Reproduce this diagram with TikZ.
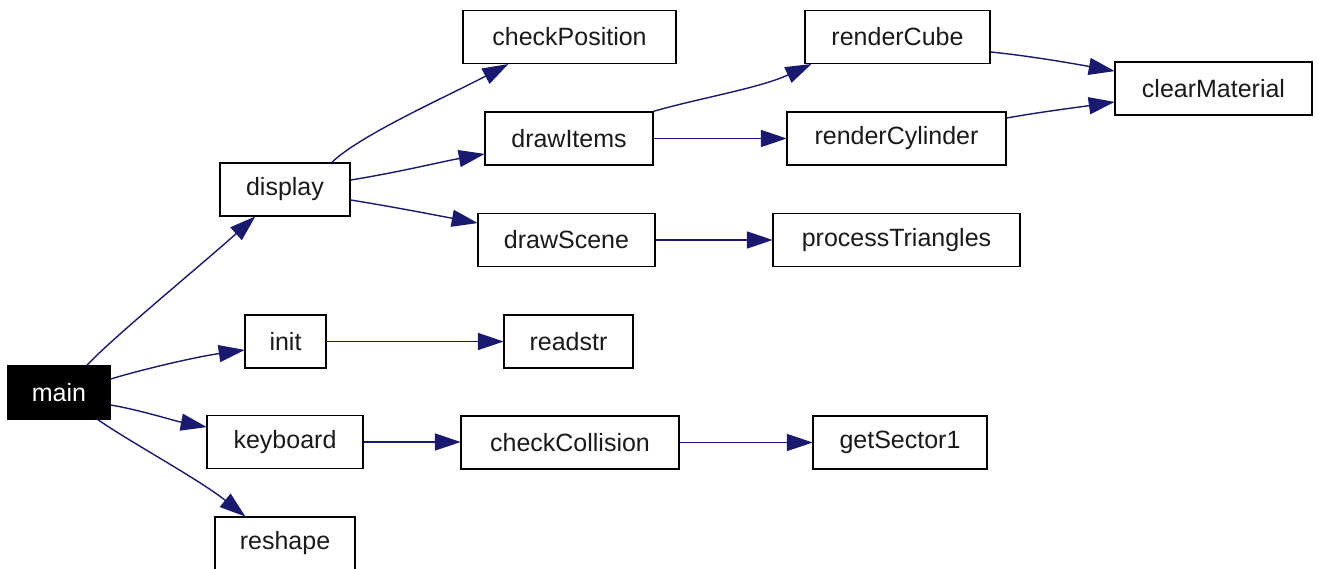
\documentclass[tikz,border=0pt]{standalone}
\usepackage{fontspec}
\setmainfont{Liberation Sans}
\usetikzlibrary{arrows.meta,calc}
\definecolor{edgeblue}{HTML}{191970}
\definecolor{labelgray}{HTML}{1A1A1A}
\tikzset{
  fn/.style={draw=black, line width=1.5pt, fill=white, inner sep=0pt,
    minimum height=53pt, text=labelgray,
    font=\fontsize{25}{30}\selectfont},
  rootfn/.style={fn, fill=black, text=white},
  call/.style={draw=edgeblue, line width=1.4pt,
    -{Triangle[length=26pt,width=17pt]}, shorten >=-0.5pt}
}
\begin{document}
\begin{tikzpicture}[x=1pt,y=-1pt]
\useasboundingbox (0,0) rectangle (1319,569);
\fill[white] (0,0) rectangle (1319,569);

% functions
\node[rootfn, minimum width=102pt] (main)  at (59,392.5)  {main};
\node[fn, minimum width=130pt] (display)   at (285,189.5) {display};
\node[fn, minimum width=81pt]  (init)      at (285.5,341.5) {init};
\node[fn, minimum width=156pt] (keyboard)  at (285,442)   {keyboard};
\node[fn, minimum width=140pt] (reshape)   at (285,543.5) {reshape};
\node[fn, minimum width=213pt] (checkPosition) at (569.5,37) {checkPosition};
\node[fn, minimum width=168pt] (drawItems) at (569,138.5) {drawItems};
\node[fn, minimum width=177pt] (drawScene) at (566.5,240) {drawScene};
\node[fn, minimum width=129pt] (readstr)   at (568.5,341.5) {readstr};
\node[fn, minimum width=218pt] (checkCollision) at (570,442.5) {checkCollision};
\node[fn, minimum width=185pt] (renderCube) at (897.5,37) {renderCube};
\node[fn, minimum width=219pt] (renderCylinder) at (896.5,138.5) {renderCylinder};
\node[fn, minimum width=247pt] (processTriangles) at (896.5,240) {processTriangles};
\node[fn, minimum width=174pt] (getSector1) at (900,442.5) {getSector1};
\node[fn, minimum width=197pt] (clearMaterial) at (1213.5,88.5) {clearMaterial};

% calls from main
\draw[call] ($(main.north)+(28,0)$) .. controls (110,340) and (200,266) .. ($(display.south)+(-30,0)$);
\draw[call] ($(main.east)+(0,-13.5)$) .. controls (140,370) and (195,357) .. ($(init.west)+(0,8.5)$);
\draw[call] ($(main.east)+(0,12.5)$) .. controls (140,410) and (175,421) .. ($(keyboard.west)+(0,-15)$);
\draw[call] ($(main.south)+(39,0)$) .. controls (130,442) and (200,480) .. ($(reshape.north)+(-40,0)$);

% calls from display
\draw[call] ($(display.north)+(47,0)$) .. controls (360,135) and (450,95) .. ($(checkPosition.south)+(-61.5,0)$);
\draw[call] ($(display.east)+(0,-9.5)$) .. controls (400,172) and (440,162) .. ($(drawItems.west)+(0,15.5)$);
\draw[call] ($(display.east)+(0,10.5)$) .. controls (400,208) and (440,216) .. ($(drawScene.west)+(0,-17)$);

% calls from drawItems
\draw[call] (drawItems.north east) .. controls (700,98) and (760,88) .. ($(renderCube.south)+(-86.5,0)$);
\draw[call] (drawItems.east) -- (renderCylinder.west);

% calls into clearMaterial
\draw[call] ($(renderCube.east)+(0,15)$) .. controls (1030,56) and (1070,63) .. ($(clearMaterial.west)+(0,-17.5)$);
\draw[call] ($(renderCylinder.east)+(0,-20.5)$) .. controls (1040,112) and (1080,107) .. ($(clearMaterial.west)+(0,13.5)$);

% straight calls
\draw[call] (drawScene.east) -- (processTriangles.west);
\draw[call] (init.east) -- (init.east -| readstr.west);
\draw[call] (keyboard.east) -- (keyboard.east -| checkCollision.west);
\draw[call] (checkCollision.east) -- (getSector1.west);
\end{tikzpicture}
\end{document}
